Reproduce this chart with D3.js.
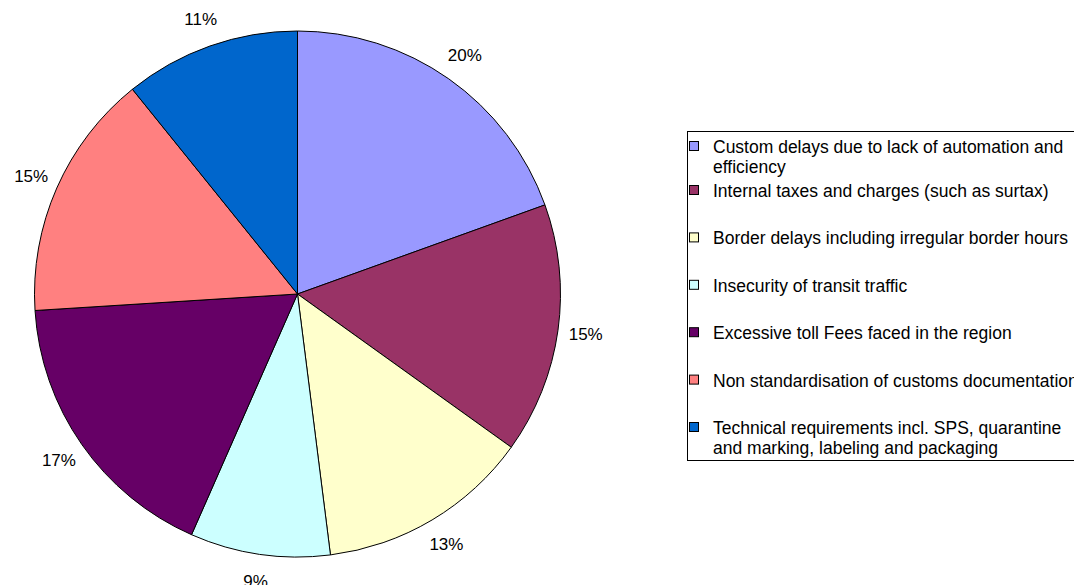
<!DOCTYPE html>
<html>
<head>
<meta charset="utf-8">
<script src="https://cdn.jsdelivr.net/npm/d3@7"></script>
<style>
  body { margin: 0; background: #fff; }
  text { font-family: "Liberation Sans", Arial, sans-serif; fill: #000; }
</style>
</head>
<body>
<div id="chart"></div>
<script>
// data
const categories = [
  ["Custom delays due to lack of automation and", "efficiency"],
  ["Internal taxes and charges (such as surtax)"],
  ["Border delays including irregular border hours"],
  ["Insecurity of transit traffic"],
  ["Excessive toll Fees faced in the region"],
  ["Non standardisation of customs documentation"],
  ["Technical requirements incl. SPS, quarantine", "and marking, labeling and packaging"]
];
const values = [19.5, 15.4, 13.1, 8.6, 17.4, 15.2, 10.8];
const colors = ["#9999FF", "#993366", "#FFFFCC", "#CCFFFF", "#660066", "#FF8080", "#0066CC"];

let dimensions = {
  width: 1074,
  height: 585,
  cx: 297.5,
  cy: 294,
  radius: 263,
  labelRadius: 291
};

const svg = d3.select("#chart").append("svg")
  .attr("width", dimensions.width)
  .attr("height", dimensions.height);

const pie = d3.pie().sort(null).value((d) => d);
const arcs = pie(values);

const arc = d3.arc().innerRadius(0).outerRadius(dimensions.radius);
const labelArc = d3.arc().innerRadius(dimensions.labelRadius).outerRadius(dimensions.labelRadius);

const pieGroup = svg.append("g")
  .attr("transform", `translate(${dimensions.cx}, ${dimensions.cy})`);

pieGroup.selectAll("path")
  .data(arcs)
  .join("path")
  .attr("d", arc)
  .attr("fill", (d, i) => colors[i])
  .attr("stroke", "#000")
  .attr("stroke-width", 1);

pieGroup.selectAll("text")
  .data(arcs)
  .join("text")
  .attr("transform", (d) => `translate(${labelArc.centroid(d)})`)
  .attr("text-anchor", "middle")
  .attr("dominant-baseline", "central")
  .style("font-size", "17px")
  .text((d) => Math.round(d.value) + "%");

// legend
const legend = svg.append("g");
legend.append("rect")
  .attr("x", 687.5)
  .attr("y", 131.5)
  .attr("width", 420)
  .attr("height", 329)
  .attr("fill", "#fff")
  .attr("stroke", "#000")
  .attr("stroke-width", 1);

const rowY = (i) => i == 0 ? 153 : 197 + (i - 1) * 47.4;

const items = legend.selectAll("g.item")
  .data(categories)
  .join("g")
  .attr("class", "item")
  .attr("transform", (d, i) => `translate(0, ${rowY(i)})`);

items.append("rect")
  .attr("x", 689.5)
  .attr("y", -11.5)
  .attr("width", 9)
  .attr("height", 9)
  .attr("fill", (d, i) => colors[i])
  .attr("stroke", "#000")
  .attr("stroke-width", 1);

items.append("text")
  .attr("x", 713)
  .style("font-size", "17.5px")
  .selectAll("tspan")
  .data((d) => d)
  .join("tspan")
  .attr("x", 713)
  .attr("dy", (d, i) => i == 0 ? 0 : 20)
  .text((d) => d);
</script>
</body>
</html>
